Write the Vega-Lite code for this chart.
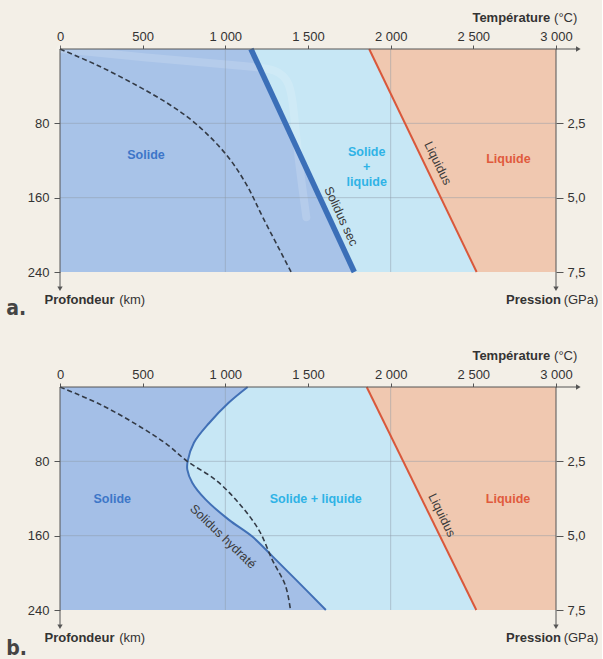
{
  "$schema": "https://vega.github.io/schema/vega-lite/v6.json",
  "background": "#f3efe7",
  "padding": {"left": 6, "top": 12, "right": 3, "bottom": 2},
  "autosize": {"type": "pad"},
  "bounds": "flush",
  "spacing": 115,
  "config": {
    "view": {"stroke": null},
    "font": "Liberation Sans",
    "axis": {"labelFont": "Liberation Sans", "labelFontSize": 13, "labelColor": "#333333", "tickColor": "#555555", "domain": false, "grid": false}
  },
  "datasets": {
    "a_curves": [
      {"curve": "liquidus", "depth": 0, "temp": 1870},
      {"curve": "liquidus", "depth": 240, "temp": 2520},
      {"curve": "solidus", "depth": 0, "temp": 1155},
      {"curve": "solidus", "depth": 240, "temp": 1780},
      {"curve": "geotherm", "depth": 0, "temp": 0},
      {"curve": "geotherm", "depth": 17, "temp": 220},
      {"curve": "geotherm", "depth": 39, "temp": 462},
      {"curve": "geotherm", "depth": 60, "temp": 664},
      {"curve": "geotherm", "depth": 81, "temp": 825},
      {"curve": "geotherm", "depth": 114, "temp": 1007},
      {"curve": "geotherm", "depth": 146, "temp": 1128},
      {"curve": "geotherm", "depth": 182, "temp": 1229},
      {"curve": "geotherm", "depth": 240, "temp": 1398},
      {"curve": "ghost", "depth": 0, "temp": 0},
      {"curve": "ghost", "depth": 10, "temp": 565},
      {"curve": "ghost", "depth": 18, "temp": 1090},
      {"curve": "ghost", "depth": 21, "temp": 1320},
      {"curve": "ghost", "depth": 37, "temp": 1392},
      {"curve": "ghost", "depth": 62, "temp": 1412},
      {"curve": "ghost", "depth": 119, "temp": 1442},
      {"curve": "ghost", "depth": 181, "temp": 1490}
    ],
    "b_curves": [
      {"curve": "liquidus", "depth": 0, "temp": 1855},
      {"curve": "liquidus", "depth": 240, "temp": 2518},
      {"curve": "solidus", "depth": 0, "temp": 1135},
      {"curve": "solidus", "depth": 17, "temp": 1020},
      {"curve": "solidus", "depth": 39, "temp": 901},
      {"curve": "solidus", "depth": 60, "temp": 810},
      {"curve": "solidus", "depth": 80, "temp": 772},
      {"curve": "solidus", "depth": 89, "temp": 770},
      {"curve": "solidus", "depth": 103, "temp": 800},
      {"curve": "solidus", "depth": 121, "temp": 880},
      {"curve": "solidus", "depth": 143, "temp": 1022},
      {"curve": "solidus", "depth": 161, "temp": 1163},
      {"curve": "solidus", "depth": 182, "temp": 1284},
      {"curve": "solidus", "depth": 207, "temp": 1425},
      {"curve": "solidus", "depth": 240, "temp": 1608},
      {"curve": "geotherm", "depth": 0, "temp": 0},
      {"curve": "geotherm", "depth": 19, "temp": 246},
      {"curve": "geotherm", "depth": 43, "temp": 487},
      {"curve": "geotherm", "depth": 62, "temp": 649},
      {"curve": "geotherm", "depth": 80, "temp": 770},
      {"curve": "geotherm", "depth": 100, "temp": 941},
      {"curve": "geotherm", "depth": 125, "temp": 1082},
      {"curve": "geotherm", "depth": 154, "temp": 1203},
      {"curve": "geotherm", "depth": 186, "temp": 1284},
      {"curve": "geotherm", "depth": 214, "temp": 1364},
      {"curve": "geotherm", "depth": 240, "temp": 1394}
    ],
    "a_labels": [
      {"label": "Solide", "kind": "solid", "temp": 520, "depth": 114},
      {"label": "Solide\n+\nliquide", "kind": "mix", "temp": 1855, "depth": 111},
      {"label": "Liquide", "kind": "liquid", "temp": 2712, "depth": 118},
      {"label": "Liquidus", "kind": "liquidus", "temp": 2285, "depth": 123},
      {"label": "Solidus sec", "kind": "solidus", "temp": 1700, "depth": 180},
      {"label": "a.", "kind": "letter", "temp": -325, "depth": 280}
    ],
    "b_labels": [
      {"label": "Solide", "kind": "solid", "temp": 316, "depth": 120},
      {"label": "Solide + liquide", "kind": "mix", "temp": 1547, "depth": 120},
      {"label": "Liquide", "kind": "liquid", "temp": 2710, "depth": 120},
      {"label": "Liquidus", "kind": "liquidus", "temp": 2310, "depth": 138},
      {"label": "Solidus hydraté", "kind": "solidus", "temp": 986, "depth": 161},
      {"label": "b.", "kind": "letter", "temp": -325, "depth": 282}
    ],
    "titles": [
      {"label": "Température", "part": "name", "side": "right", "temp": 2965, "depth": -33},
      {"label": "(°C)", "part": "unit", "side": "right", "temp": 3129, "depth": -33},
      {"label": "Profondeur", "part": "name", "side": "left", "temp": -94, "depth": 270},
      {"label": "(km)", "part": "unit", "side": "left", "temp": 358, "depth": 270},
      {"label": "Pression", "part": "name", "side": "right", "temp": 3030, "depth": 270},
      {"label": "(GPa)", "part": "unit", "side": "right", "temp": 3256, "depth": 270}
    ],
    "grid_t": [{"temp": 1000}, {"temp": 2000}],
    "grid_d": [{"depth": 80}, {"depth": 160}],
    "frame": [
      {"part": "top", "temp": 0, "temp2": 3130, "depth": 0, "depth2": 0},
      {"part": "left", "temp": 0, "temp2": 0, "depth": 0, "depth2": 256}
    ],
    "arrows_down": [{"temp": 0, "depth": 258}, {"temp": 3000, "depth": 258}],
    "arrows_right": [{"temp": 3135, "depth": 0}],
    "pressure": [{"temp": 3000, "pressure": 0, "pressure2": 8.0}]
  },
  "vconcat": [
    {
      "width": 496,
      "height": 223,
      "layer": [
        {
          "layer": [
            {
              "data": {"name": "a_curves"},
              "transform": [{"filter": "datum.curve == 'liquidus'"}],
              "mark": {"type": "area", "orient": "horizontal", "color": "#c7e7f5"},
              "encoding": {
                "x": {"field": "temp", "type": "quantitative", "scale": {"domain": [0, 3000], "nice": false, "zero": false},
                  "axis": {"orient": "top", "values": [0, 500, 1000, 1500, 2000, 2500, 3000], "labelExpr": "replace(format(datum.value, ','), ',', ' ')", "title": null, "tickSize": 4, "labelPadding": 2, "labelFlush": false}},
                "x2": {"datum": 0},
                "y": {"field": "depth", "type": "quantitative", "scale": {"domain": [0, 240], "reverse": true, "nice": false, "zero": false},
                  "axis": {"orient": "left", "values": [80, 160, 240], "title": null, "tickSize": 6, "labelPadding": 5}}
              }
            },
            {
              "data": {"name": "a_curves"},
              "transform": [{"filter": "datum.curve == 'solidus'"}],
              "mark": {"type": "area", "orient": "horizontal", "color": "#a8c3e8"},
              "encoding": {"x": {"field": "temp", "type": "quantitative"}, "x2": {"datum": 0}, "y": {"field": "depth", "type": "quantitative"}}
            },
            {
              "data": {"name": "a_curves"},
              "transform": [{"filter": "datum.curve == 'liquidus'"}],
              "mark": {"type": "area", "orient": "horizontal", "color": "#f0c8b0"},
              "encoding": {"x": {"field": "temp", "type": "quantitative"}, "x2": {"datum": 3000}, "y": {"field": "depth", "type": "quantitative"}}
            },
            {
              "data": {"name": "a_curves"},
              "transform": [{"filter": "datum.curve == 'ghost'"}],
              "mark": {"type": "line", "color": "#ffffff", "opacity": 0.15, "strokeWidth": 8, "interpolate": "basis", "strokeCap": "round"},
              "encoding": {"x": {"field": "temp", "type": "quantitative"}, "y": {"field": "depth", "type": "quantitative"}, "order": {"field": "depth"}}
            },
            {
              "data": {"name": "grid_t"},
              "mark": {"type": "rule", "color": "#8d99a6", "strokeWidth": 0.8, "opacity": 0.6},
              "encoding": {"x": {"field": "temp", "type": "quantitative"}}
            },
            {
              "data": {"name": "grid_d"},
              "mark": {"type": "rule", "color": "#8d99a6", "strokeWidth": 0.8, "opacity": 0.6},
              "encoding": {"y": {"field": "depth", "type": "quantitative"}}
            },
            {
              "data": {"name": "a_curves"},
              "transform": [{"filter": "datum.curve == 'liquidus'"}],
              "mark": {"type": "line", "color": "#d9583b", "strokeWidth": 2},
              "encoding": {"x": {"field": "temp", "type": "quantitative"}, "y": {"field": "depth", "type": "quantitative"}, "order": {"field": "depth"}}
            },
            {
              "data": {"name": "a_curves"},
              "transform": [{"filter": "datum.curve == 'solidus'"}],
              "mark": {"type": "line", "color": "#3b6fb8", "strokeWidth": 5.5},
              "encoding": {"x": {"field": "temp", "type": "quantitative"}, "y": {"field": "depth", "type": "quantitative"}, "order": {"field": "depth"}}
            },
            {
              "data": {"name": "a_curves"},
              "transform": [{"filter": "datum.curve == 'geotherm'"}],
              "mark": {"type": "line", "color": "#333a45", "strokeWidth": 1.6, "strokeDash": [5, 3], "interpolate": "catmull-rom"},
              "encoding": {"x": {"field": "temp", "type": "quantitative"}, "y": {"field": "depth", "type": "quantitative"}, "order": {"field": "depth"}}
            },
            {
              "data": {"name": "a_labels"},
              "transform": [{"filter": "datum.kind == 'solid'"}],
              "mark": {"type": "text", "fontWeight": "bold", "fontSize": 12.5, "color": "#3d76c8"},
              "encoding": {"x": {"field": "temp", "type": "quantitative"}, "y": {"field": "depth", "type": "quantitative"}, "text": {"field": "label"}}
            },
            {
              "data": {"name": "a_labels"},
              "transform": [{"filter": "datum.kind == 'mix'"}],
              "mark": {"type": "text", "fontWeight": "bold", "fontSize": 12.5, "color": "#2fb3e6", "lineBreak": "\n", "lineHeight": 15},
              "encoding": {"x": {"field": "temp", "type": "quantitative"}, "y": {"field": "depth", "type": "quantitative"}, "text": {"field": "label"}}
            },
            {
              "data": {"name": "a_labels"},
              "transform": [{"filter": "datum.kind == 'liquid'"}],
              "mark": {"type": "text", "fontWeight": "bold", "fontSize": 12.5, "color": "#e05a3c"},
              "encoding": {"x": {"field": "temp", "type": "quantitative"}, "y": {"field": "depth", "type": "quantitative"}, "text": {"field": "label"}}
            },
            {
              "data": {"name": "a_labels"},
              "transform": [{"filter": "datum.kind == 'liquidus'"}],
              "mark": {"type": "text", "fontSize": 12.5, "color": "#3a3a3a", "angle": 64},
              "encoding": {"x": {"field": "temp", "type": "quantitative"}, "y": {"field": "depth", "type": "quantitative"}, "text": {"field": "label"}}
            },
            {
              "data": {"name": "a_labels"},
              "transform": [{"filter": "datum.kind == 'solidus'"}],
              "mark": {"type": "text", "fontSize": 12.5, "color": "#3a3a3a", "angle": 65},
              "encoding": {"x": {"field": "temp", "type": "quantitative"}, "y": {"field": "depth", "type": "quantitative"}, "text": {"field": "label"}}
            },
            {
              "data": {"name": "a_labels"},
              "transform": [{"filter": "datum.kind == 'letter'"}],
              "mark": {"type": "text", "fontSize": 21, "fontWeight": "bold", "color": "#444444", "align": "left", "font": "DejaVu Sans Condensed, Liberation Sans, sans-serif"},
              "encoding": {"x": {"field": "temp", "type": "quantitative"}, "y": {"field": "depth", "type": "quantitative"}, "text": {"field": "label"}}
            },
            {
              "data": {"name": "titles"},
              "transform": [{"filter": "datum.part == 'name' && datum.side == 'right'"}],
              "mark": {"type": "text", "fontSize": 13, "fontWeight": "bold", "color": "#333333", "align": "right"},
              "encoding": {"x": {"field": "temp", "type": "quantitative"}, "y": {"field": "depth", "type": "quantitative"}, "text": {"field": "label"}}
            },
            {
              "data": {"name": "titles"},
              "transform": [{"filter": "datum.part == 'unit' && datum.side == 'right'"}],
              "mark": {"type": "text", "fontSize": 13, "color": "#333333", "align": "right"},
              "encoding": {"x": {"field": "temp", "type": "quantitative"}, "y": {"field": "depth", "type": "quantitative"}, "text": {"field": "label"}}
            },
            {
              "data": {"name": "titles"},
              "transform": [{"filter": "datum.part == 'name' && datum.side == 'left'"}],
              "mark": {"type": "text", "fontSize": 13, "fontWeight": "bold", "color": "#333333", "align": "left"},
              "encoding": {"x": {"field": "temp", "type": "quantitative"}, "y": {"field": "depth", "type": "quantitative"}, "text": {"field": "label"}}
            },
            {
              "data": {"name": "titles"},
              "transform": [{"filter": "datum.part == 'unit' && datum.side == 'left'"}],
              "mark": {"type": "text", "fontSize": 13, "color": "#333333", "align": "left"},
              "encoding": {"x": {"field": "temp", "type": "quantitative"}, "y": {"field": "depth", "type": "quantitative"}, "text": {"field": "label"}}
            },
            {
              "data": {"name": "frame"},
              "mark": {"type": "rule", "color": "#555555", "strokeWidth": 1},
              "encoding": {"x": {"field": "temp", "type": "quantitative"}, "x2": {"field": "temp2"}, "y": {"field": "depth", "type": "quantitative"}, "y2": {"field": "depth2"}}
            },
            {
              "data": {"name": "arrows_down"},
              "mark": {"type": "point", "shape": "triangle-down", "filled": true, "size": 28, "color": "#555555", "opacity": 1},
              "encoding": {"x": {"field": "temp", "type": "quantitative"}, "y": {"field": "depth", "type": "quantitative"}}
            },
            {
              "data": {"name": "arrows_right"},
              "mark": {"type": "point", "shape": "triangle-right", "filled": true, "size": 28, "color": "#555555", "opacity": 1},
              "encoding": {"x": {"field": "temp", "type": "quantitative"}, "y": {"field": "depth", "type": "quantitative"}}
            }
          ]
        },
        {
          "data": {"name": "pressure"},
          "mark": {"type": "rule", "color": "#555555", "strokeWidth": 1},
          "encoding": {
            "x": {"field": "temp", "type": "quantitative"},
            "y": {"field": "pressure", "type": "quantitative", "scale": {"domain": [0, 7.5], "reverse": true, "nice": false, "zero": false},
              "axis": {"orient": "right", "values": [2.5, 5, 7.5], "labelExpr": "replace(format(datum.value, '.1f'), '.', ',')", "title": null, "tickSize": 7, "labelPadding": 4}},
            "y2": {"field": "pressure2"}
          }
        }
      ],
      "resolve": {"scale": {"y": "independent"}}
    },
    {
      "width": 496,
      "height": 223,
      "layer": [
        {
          "layer": [
            {
              "data": {"name": "b_curves"},
              "transform": [{"filter": "datum.curve == 'liquidus'"}],
              "mark": {"type": "area", "orient": "horizontal", "color": "#c7e7f5"},
              "encoding": {
                "x": {"field": "temp", "type": "quantitative", "scale": {"domain": [0, 3000], "nice": false, "zero": false},
                  "axis": {"orient": "top", "values": [0, 500, 1000, 1500, 2000, 2500, 3000], "labelExpr": "replace(format(datum.value, ','), ',', ' ')", "title": null, "tickSize": 4, "labelPadding": 2, "labelFlush": false}},
                "x2": {"datum": 0},
                "y": {"field": "depth", "type": "quantitative", "scale": {"domain": [0, 240], "reverse": true, "nice": false, "zero": false},
                  "axis": {"orient": "left", "values": [80, 160, 240], "title": null, "tickSize": 6, "labelPadding": 5}}
              }
            },
            {
              "data": {"name": "b_curves"},
              "transform": [{"filter": "datum.curve == 'solidus'"}],
              "mark": {"type": "area", "orient": "horizontal", "color": "#a4bfe7", "interpolate": "catmull-rom"},
              "encoding": {"x": {"field": "temp", "type": "quantitative"}, "x2": {"datum": 0}, "y": {"field": "depth", "type": "quantitative"}}
            },
            {
              "data": {"name": "b_curves"},
              "transform": [{"filter": "datum.curve == 'liquidus'"}],
              "mark": {"type": "area", "orient": "horizontal", "color": "#f0c8b0"},
              "encoding": {"x": {"field": "temp", "type": "quantitative"}, "x2": {"datum": 3000}, "y": {"field": "depth", "type": "quantitative"}}
            },
            {
              "data": {"name": "grid_t"},
              "mark": {"type": "rule", "color": "#8d99a6", "strokeWidth": 0.8, "opacity": 0.6},
              "encoding": {"x": {"field": "temp", "type": "quantitative"}}
            },
            {
              "data": {"name": "grid_d"},
              "mark": {"type": "rule", "color": "#8d99a6", "strokeWidth": 0.8, "opacity": 0.6},
              "encoding": {"y": {"field": "depth", "type": "quantitative"}}
            },
            {
              "data": {"name": "b_curves"},
              "transform": [{"filter": "datum.curve == 'liquidus'"}],
              "mark": {"type": "line", "color": "#d9583b", "strokeWidth": 2},
              "encoding": {"x": {"field": "temp", "type": "quantitative"}, "y": {"field": "depth", "type": "quantitative"}, "order": {"field": "depth"}}
            },
            {
              "data": {"name": "b_curves"},
              "transform": [{"filter": "datum.curve == 'solidus'"}],
              "mark": {"type": "line", "color": "#4170b6", "strokeWidth": 2, "interpolate": "catmull-rom"},
              "encoding": {"x": {"field": "temp", "type": "quantitative"}, "y": {"field": "depth", "type": "quantitative"}, "order": {"field": "depth"}}
            },
            {
              "data": {"name": "b_curves"},
              "transform": [{"filter": "datum.curve == 'geotherm'"}],
              "mark": {"type": "line", "color": "#333a45", "strokeWidth": 1.6, "strokeDash": [5, 3], "interpolate": "catmull-rom"},
              "encoding": {"x": {"field": "temp", "type": "quantitative"}, "y": {"field": "depth", "type": "quantitative"}, "order": {"field": "depth"}}
            },
            {
              "data": {"name": "b_labels"},
              "transform": [{"filter": "datum.kind == 'solid'"}],
              "mark": {"type": "text", "fontWeight": "bold", "fontSize": 12.5, "color": "#3d76c8"},
              "encoding": {"x": {"field": "temp", "type": "quantitative"}, "y": {"field": "depth", "type": "quantitative"}, "text": {"field": "label"}}
            },
            {
              "data": {"name": "b_labels"},
              "transform": [{"filter": "datum.kind == 'mix'"}],
              "mark": {"type": "text", "fontWeight": "bold", "fontSize": 12.5, "color": "#2fb3e6"},
              "encoding": {"x": {"field": "temp", "type": "quantitative"}, "y": {"field": "depth", "type": "quantitative"}, "text": {"field": "label"}}
            },
            {
              "data": {"name": "b_labels"},
              "transform": [{"filter": "datum.kind == 'liquid'"}],
              "mark": {"type": "text", "fontWeight": "bold", "fontSize": 12.5, "color": "#e05a3c"},
              "encoding": {"x": {"field": "temp", "type": "quantitative"}, "y": {"field": "depth", "type": "quantitative"}, "text": {"field": "label"}}
            },
            {
              "data": {"name": "b_labels"},
              "transform": [{"filter": "datum.kind == 'liquidus'"}],
              "mark": {"type": "text", "fontSize": 12.5, "color": "#3a3a3a", "angle": 64},
              "encoding": {"x": {"field": "temp", "type": "quantitative"}, "y": {"field": "depth", "type": "quantitative"}, "text": {"field": "label"}}
            },
            {
              "data": {"name": "b_labels"},
              "transform": [{"filter": "datum.kind == 'solidus'"}],
              "mark": {"type": "text", "fontSize": 12.5, "color": "#3a3a3a", "angle": 44},
              "encoding": {"x": {"field": "temp", "type": "quantitative"}, "y": {"field": "depth", "type": "quantitative"}, "text": {"field": "label"}}
            },
            {
              "data": {"name": "b_labels"},
              "transform": [{"filter": "datum.kind == 'letter'"}],
              "mark": {"type": "text", "fontSize": 21, "fontWeight": "bold", "color": "#444444", "align": "left", "font": "DejaVu Sans Condensed, Liberation Sans, sans-serif"},
              "encoding": {"x": {"field": "temp", "type": "quantitative"}, "y": {"field": "depth", "type": "quantitative"}, "text": {"field": "label"}}
            },
            {
              "data": {"name": "titles"},
              "transform": [{"filter": "datum.part == 'name' && datum.side == 'right'"}],
              "mark": {"type": "text", "fontSize": 13, "fontWeight": "bold", "color": "#333333", "align": "right"},
              "encoding": {"x": {"field": "temp", "type": "quantitative"}, "y": {"field": "depth", "type": "quantitative"}, "text": {"field": "label"}}
            },
            {
              "data": {"name": "titles"},
              "transform": [{"filter": "datum.part == 'unit' && datum.side == 'right'"}],
              "mark": {"type": "text", "fontSize": 13, "color": "#333333", "align": "right"},
              "encoding": {"x": {"field": "temp", "type": "quantitative"}, "y": {"field": "depth", "type": "quantitative"}, "text": {"field": "label"}}
            },
            {
              "data": {"name": "titles"},
              "transform": [{"filter": "datum.part == 'name' && datum.side == 'left'"}],
              "mark": {"type": "text", "fontSize": 13, "fontWeight": "bold", "color": "#333333", "align": "left"},
              "encoding": {"x": {"field": "temp", "type": "quantitative"}, "y": {"field": "depth", "type": "quantitative"}, "text": {"field": "label"}}
            },
            {
              "data": {"name": "titles"},
              "transform": [{"filter": "datum.part == 'unit' && datum.side == 'left'"}],
              "mark": {"type": "text", "fontSize": 13, "color": "#333333", "align": "left"},
              "encoding": {"x": {"field": "temp", "type": "quantitative"}, "y": {"field": "depth", "type": "quantitative"}, "text": {"field": "label"}}
            },
            {
              "data": {"name": "frame"},
              "mark": {"type": "rule", "color": "#555555", "strokeWidth": 1},
              "encoding": {"x": {"field": "temp", "type": "quantitative"}, "x2": {"field": "temp2"}, "y": {"field": "depth", "type": "quantitative"}, "y2": {"field": "depth2"}}
            },
            {
              "data": {"name": "arrows_down"},
              "mark": {"type": "point", "shape": "triangle-down", "filled": true, "size": 28, "color": "#555555", "opacity": 1},
              "encoding": {"x": {"field": "temp", "type": "quantitative"}, "y": {"field": "depth", "type": "quantitative"}}
            },
            {
              "data": {"name": "arrows_right"},
              "mark": {"type": "point", "shape": "triangle-right", "filled": true, "size": 28, "color": "#555555", "opacity": 1},
              "encoding": {"x": {"field": "temp", "type": "quantitative"}, "y": {"field": "depth", "type": "quantitative"}}
            }
          ]
        },
        {
          "data": {"name": "pressure"},
          "mark": {"type": "rule", "color": "#555555", "strokeWidth": 1},
          "encoding": {
            "x": {"field": "temp", "type": "quantitative"},
            "y": {"field": "pressure", "type": "quantitative", "scale": {"domain": [0, 7.5], "reverse": true, "nice": false, "zero": false},
              "axis": {"orient": "right", "values": [2.5, 5, 7.5], "labelExpr": "replace(format(datum.value, '.1f'), '.', ',')", "title": null, "tickSize": 7, "labelPadding": 4}},
            "y2": {"field": "pressure2"}
          }
        }
      ],
      "resolve": {"scale": {"y": "independent"}}
    }
  ]
}
